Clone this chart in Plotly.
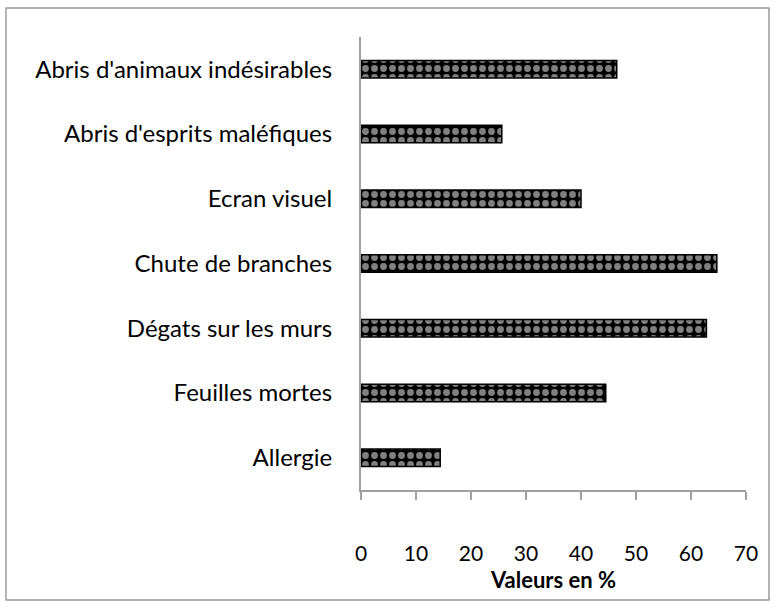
import plotly.graph_objects as go

categories = ["Allergie", "Feuilles mortes", "Dégats sur les murs", "Chute de branches",
              "Ecran visuel", "Abris d'esprits maléfiques", "Abris d'animaux indésirables"]
values = [14.4, 44.5, 62.8, 64.7, 40.0, 25.6, 46.5]
x_ticks = [0, 10, 20, 30, 40, 50, 60, 70]
x_title = "Valeurs en %"

W, H = 776, 608
L, R, T, B = 361, 30, 37, 118
pw, ph = W - L - R, H - T - B

fig = go.Figure(go.Bar(
    x=values, y=categories, orientation="h",
    marker=dict(color="black", line=dict(color="black", width=1.5),
                pattern=dict(shape=".", fgcolor="white", bgcolor="black", size=9, solidity=0.45)),
    width=0.27,
))

axis_color = "#a0a0a0"
fig.update_layout(
    width=W, height=H,
    margin=dict(l=L, r=R, t=T, b=B, autoexpand=False),
    plot_bgcolor="white", paper_bgcolor="white",
    showlegend=False,
    font=dict(family="Lato, Open Sans, sans-serif", color="black"),
    xaxis=dict(range=[0, 70], tickvals=x_ticks, showgrid=False, zeroline=False,
               showline=True, linecolor=axis_color, linewidth=2, automargin=False,
               ticks="outside", ticklen=8, tickcolor=axis_color, tickwidth=2,
               tickfont=dict(size=21), ticklabelstandoff=36,
               title=dict(text="<b>" + x_title + "</b>", font=dict(size=22), standoff=8)),
    yaxis=dict(categoryorder="array", categoryarray=categories, showgrid=False, automargin=False,
               showline=True, linecolor=axis_color, linewidth=2, ticks="",
               tickfont=dict(size=24), ticklabelstandoff=22),
    shapes=[dict(type="rect", xref="paper", yref="paper",
                 x0=(6 - L) / pw, x1=(769 - L) / pw,
                 y0=(H - B - 600) / ph, y1=1 + (T - 8) / ph,
                 line=dict(color="#9a9a9a", width=1.5), fillcolor="rgba(0,0,0,0)", layer="below")],
)

fig.write_html("out.html", config={"displayModeBar": False},
               post_script="document.body.style.margin='0';")
